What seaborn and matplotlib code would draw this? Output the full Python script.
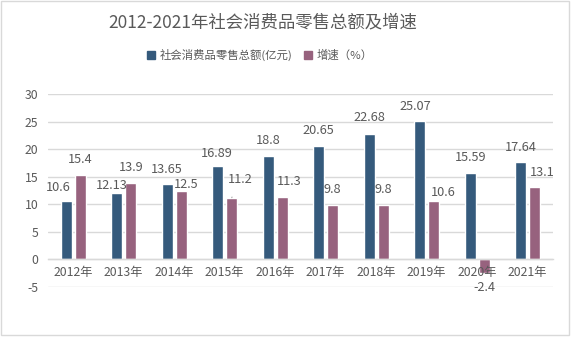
import matplotlib
matplotlib.use("Agg")
import matplotlib.pyplot as plt
import seaborn as sns
import pandas as pd
from matplotlib.patches import Rectangle

years = ["2012年", "2013年", "2014年", "2015年", "2016年", "2017年", "2018年", "2019年", "2020年", "2021年"]
retail_total = [10.6, 12.13, 13.65, 16.89, 18.8, 20.65, 22.68, 25.07, 15.59, 17.64]
growth_rate = [15.4, 13.9, 12.5, 11.2, 11.3, 9.8, 9.8, 10.6, -2.4, 13.1]
series_names = ["社会消费品零售总额(亿元)", "增速（%）"]
title = "2012-2021年社会消费品零售总额及增速"

# label offsets (pixels) relative to bar end, purely layout
blue_offsets = [(-8, 13), (-5, 7), (-1, 15), (-1, 13), (0, 15), (0, 15), (0, 17), (-4, 15), (0, 16), (0, 15)]
mauve_offsets = [(0, 15), (0, 15), (5, 6), (8, 18), (7, 16), (0, 16), (0, 16), (9, 8), (0, -15), (7, 15)]

sns.set_theme(style="white")
plt.rcParams["font.family"] = ["Noto Sans CJK SC", "DejaVu Sans"]
plt.rcParams["axes.unicode_minus"] = False

BLUE = "#355A7C"
MAUVE = "#97627E"
TXT = "#595959"
GRID = "#D9D9D9"

df = pd.DataFrame({
    "year": years * 2,
    "value": retail_total + growth_rate,
    "series": [series_names[0]] * len(years) + [series_names[1]] * len(years),
})

fig = plt.figure(figsize=(5.72, 3.4), dpi=100)
ax = fig.add_axes([48 / 572, 1 - 287 / 340, (553 - 48) / 572, (287 - 94) / 340])

sns.barplot(data=df, x="year", y="value", hue="series", order=years,
            hue_order=series_names, palette=[BLUE, MAUVE], width=0.556, gap=0.216,
            saturation=1, ax=ax, legend=True, zorder=2)

ax.set_ylim(-5, 30)
ax.set_xlim(-0.5, len(years) - 0.5)
ax.set_yticks(range(-5, 31, 5))
ax.yaxis.grid(True, color=GRID, linewidth=1)
ax.set_axisbelow(True)
for s in ["left", "right", "top"]:
    ax.spines[s].set_visible(False)
ax.spines["bottom"].set_position(("data", 0))
ax.spines["bottom"].set_color(GRID)
ax.spines["bottom"].set_linewidth(1)
ax.set_xlabel("")
ax.set_ylabel("")
ax.tick_params(axis="both", length=0, colors=TXT, labelsize=8.8)
ax.tick_params(axis="y", pad=7)
ax.tick_params(axis="x", labelbottom=False)

# category labels drawn above bars
for i, yr in enumerate(years):
    ax.annotate(yr, xy=(i, 0), xytext=(0, -13), textcoords="offset pixels",
                ha="center", va="center", fontsize=8.8, color=TXT, zorder=7)

# data labels
containers = ax.containers
for cont, vals, offs in [(containers[0], retail_total, blue_offsets),
                         (containers[1], growth_rate, mauve_offsets)]:
    for i, (bar, v, off) in enumerate(zip(cont.patches, vals, offs)):
        cx = bar.get_x() + bar.get_width() / 2
        kw = {}
        if cont is containers[1] and i == 3:
            kw["arrowprops"] = dict(arrowstyle="-", color="#A6A6A6", lw=0.8,
                                    shrinkA=6, shrinkB=0)
        ax.annotate(f"{v:g}", xy=(cx, v), xytext=off, textcoords="offset pixels",
                    ha="center", va="center", fontsize=9.2, color=TXT, zorder=6, **kw)

# legend
ax.legend_.remove()
handles = [Rectangle((0, 0), 1, 1, color=BLUE), Rectangle((0, 0), 1, 1, color=MAUVE)]
fig.legend(handles, series_names, loc="center", bbox_to_anchor=(260 / 572, 1 - 55 / 340),
           ncol=2, frameon=False, fontsize=8.2, handlelength=0.7, handleheight=0.7,
           handletextpad=0.4, columnspacing=1.0, labelcolor=TXT)

fig.text(263 / 572, 1 - 22 / 340, title, ha="center", va="center", fontsize=12.5, color=TXT)

fig.patches.append(Rectangle((0.5 / 572, 1 - 334.5 / 340), 568.5 / 572, 334 / 340,
                             transform=fig.transFigure, fill=False, edgecolor=GRID,
                             linewidth=1, figure=fig))

fig.savefig("out.png", dpi=100, facecolor="white")
